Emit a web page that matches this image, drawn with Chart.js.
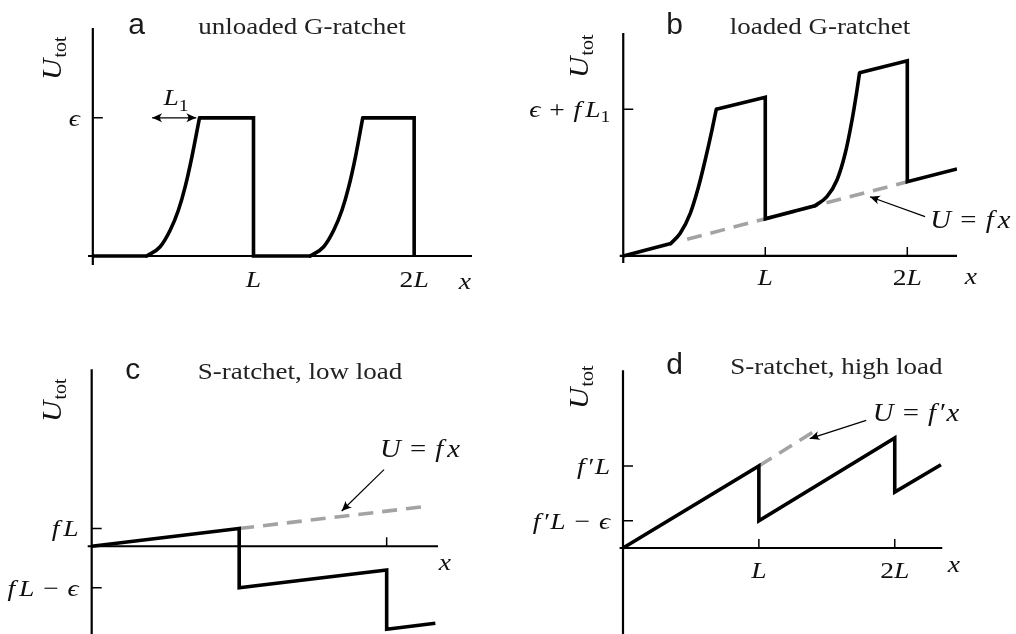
<!DOCTYPE html>
<html>
<head>
<meta charset="utf-8">
<script src="https://cdn.jsdelivr.net/npm/chart.js@4"></script>
<style>
  body { margin: 0; background: #fff; width: 1016px; height: 634px; position: relative; overflow: hidden; }
  .panel { position: absolute; width: 508px; height: 317px; }
</style>
</head>
<body>
<div class="panel" style="left:0;top:0"><canvas id="chartA" width="508" height="317"></canvas></div>
<div class="panel" style="left:508px;top:0"><canvas id="chartB" width="508" height="317"></canvas></div>
<div class="panel" style="left:0;top:317px"><canvas id="chartC" width="508" height="317"></canvas></div>
<div class="panel" style="left:508px;top:317px"><canvas id="chartD" width="508" height="317"></canvas></div>
<script>
// x in units of the period L
const xTickValues = [1, 2];
const xTickLabels = ["L", "2L"];

// a: unloaded G-ratchet (energy in units of eps)
const aSolid = [
  [[0, 0], [0.336, 0]],
  [[0.664, 1], [1, 1], [1, 0], [1.354, 0]],
  [[1.68, 1], [2, 1], [2, 0]]
];
const aRise = [
  [[0.336, 0], [0.419, 0.067], [0.482, 0.188], [0.533, 0.333], [0.575, 0.502], [0.617, 0.72], [0.664, 1]],
  [[1.354, 0], [1.437, 0.067], [1.5, 0.188], [1.551, 0.333], [1.593, 0.502], [1.635, 0.72], [1.68, 1]]
];
const aYTicks = [1];
const aYTickLabels = ["ϵ"];

// b: loaded G-ratchet (energy in units of eps + f L1)
const bSolid = [
  [[0, 0], [0.335, 0.085]],
  [[0.655, 1.0], [1, 1.082], [1, 0.253], [1.35, 0.342]],
  [[1.664, 1.249], [2, 1.331], [2, 0.506], [2.35, 0.593]]
];
const bRise = [
  [[0.335, 0.085], [0.401, 0.155], [0.472, 0.291], [0.53, 0.472], [0.577, 0.654], [0.625, 0.859], [0.655, 1.0]],
  [[1.35, 0.342], [1.434, 0.404], [1.505, 0.518], [1.563, 0.7], [1.611, 0.927], [1.646, 1.132], [1.664, 1.249]]
];
const bLoad = [[0.45, 0.114], [2, 0.506]];
const bYTicks = [1];
const bYTickLabels = ["ϵ + fL_1"];

// c: S-ratchet, low load (energy in units of eps)
const cSolid = [
  [[0, 0], [1, 0.3], [1, -0.7], [2, -0.4], [2, -1.4], [2.33, -1.3]]
];
const cLoad = [[1, 0.3], [2.245, 0.665]];
const cYTicks = [0.3, -0.7];
const cYTickLabels = ["fL", "fL − ϵ"];

// d: S-ratchet, high load (energy in units of f'L)
const dSolid = [
  [[0, 0], [1, 1], [1, 0.333], [2, 1.341], [2, 0.683], [2.34, 1.016]]
];
const dLoad = [[1, 1], [1.4, 1.415]];
const dYTicks = [1, 0.333];
const dYTickLabels = ["f′L", "f′L − ϵ"];

const SERIF = '"Liberation Serif", "DejaVu Serif", serif';
const GREY = "#a3a3a3";
const INK = "#111";

// split a TeX-ish label into runs: letters italic, digits/ops roman, _x subscript
function mathRuns(s) {
  const runs = [];
  for (let i = 0; i < s.length; i++) {
    const c = s[i];
    if (c === " ") continue;
    if (c === "_") { runs.push({ t: s[++i], sub: true }); continue; }
    if ("+=−".includes(c)) { runs.push({ t: c, op: true }); continue; }
    runs.push({ t: c, it: /[A-Za-zϵ]/.test(c) });
  }
  return runs;
}

function drawMath(ctx, s, x, midY, size, align) {
  const stretch = 1.15;
  const gap = size * 0.32;
  let w = 0;
  const items = mathRuns(s).map(r => {
    const font = r.sub ? `${Math.round(size * 0.72)}px ${SERIF}`
      : r.it ? `italic ${size}px ${SERIF}` : `${size}px ${SERIF}`;
    ctx.font = font;
    const tw = ctx.measureText(r.t).width;
    const pre = r.op ? gap : 0;
    const post = r.op ? gap : (r.t === "f" ? size * 0.14 : 0);
    const it = { t: r.t, font, x: w + pre, dy: r.sub ? size * 0.22 : 0 };
    w += pre + tw + post;
    return it;
  });
  const total = w * stretch;
  const x0 = align === "right" ? x - total : align === "center" ? x - total / 2 : x;
  ctx.save();
  ctx.translate(x0, midY + size * 0.33);
  ctx.scale(stretch, 1);
  ctx.fillStyle = INK;
  ctx.textAlign = "left";
  ctx.textBaseline = "alphabetic";
  items.forEach(it => { ctx.font = it.font; ctx.fillText(it.t, it.x, it.dy); });
  ctx.restore();
}

function drawUtot(ctx, x, y) {
  ctx.save();
  ctx.translate(x, y);
  ctx.rotate(-Math.PI / 2);
  ctx.scale(1.1, 1);
  ctx.fillStyle = INK;
  ctx.textBaseline = "alphabetic";
  ctx.font = `italic 27px ${SERIF}`;
  ctx.fillText("U", 0, 0);
  const wu = ctx.measureText("U").width;
  ctx.font = `18px ${SERIF}`;
  ctx.fillText("tot", wu + 1, 5);
  ctx.restore();
}

function drawTitle(ctx, letter, lx, title, tx, baseY) {
  ctx.save();
  ctx.fillStyle = "#1a1a1a";
  ctx.textAlign = "center";
  ctx.textBaseline = "alphabetic";
  ctx.font = '30px "Liberation Sans", Arial, sans-serif';
  ctx.fillText(letter, lx, baseY);
  ctx.translate(tx, baseY);
  ctx.scale(1.2, 1);
  ctx.fillStyle = "#222";
  ctx.font = `22.5px ${SERIF}`;
  ctx.fillText(title, 0, 0);
  ctx.restore();
}

function arrowHead(ctx, fx, fy, tx, ty) {
  const a = Math.atan2(ty - fy, tx - fx);
  ctx.save();
  ctx.translate(tx, ty);
  ctx.rotate(a);
  ctx.beginPath();
  ctx.moveTo(0, 0);
  ctx.lineTo(-10, -4.5);
  ctx.quadraticCurveTo(-6, 0, -10, 4.5);
  ctx.closePath();
  ctx.fill();
  ctx.restore();
}

function ratchetPlugin(p) {
  return {
    id: "ratchetAxes",
    beforeDatasetsDraw(chart) {
      const { ctx, scales: { x, y } } = chart;
      const x0 = x.getPixelForValue(0), y0 = y.getPixelForValue(0);
      ctx.save();
      ctx.strokeStyle = "#000";
      ctx.lineWidth = 2.2;
      ctx.beginPath();
      ctx.moveTo(x.getPixelForValue(x.min), y0);
      ctx.lineTo(x.getPixelForValue(x.max), y0);
      ctx.moveTo(x0, y.getPixelForValue(y.min));
      ctx.lineTo(x0, y.getPixelForValue(y.max));
      ctx.stroke();
      ctx.lineWidth = 1.5;
      ctx.beginPath();
      xTickValues.forEach(v => {
        const px = x.getPixelForValue(v);
        ctx.moveTo(px, y0);
        ctx.lineTo(px, y0 - 9);
      });
      p.yTicks.forEach(v => {
        const py = y.getPixelForValue(v);
        ctx.moveTo(x0, py);
        ctx.lineTo(x0 + 10, py);
      });
      ctx.stroke();
      ctx.restore();
    },
    afterDatasetsDraw(chart) {
      const { ctx, scales: { x, y } } = chart;
      const x0 = x.getPixelForValue(0), y0 = y.getPixelForValue(0);
      if (p.showXTicks) {
        xTickValues.forEach((v, i) => drawMath(ctx, xTickLabels[i], x.getPixelForValue(v), y0 + p.xLabelDy, 24, "center"));
      }
      p.yTicks.forEach((v, i) => drawMath(ctx, p.yLabels[i], x0 - 13, y.getPixelForValue(v), 24, "right"));
      drawMath(ctx, "x", p.xName[0], p.xName[1], 24, "center");
      drawUtot(ctx, p.utot[0], p.utot[1]);
      drawTitle(ctx, p.letter, p.letterX, p.title, p.titleX, p.titleY);

      ctx.save();
      ctx.strokeStyle = "#000";
      ctx.fillStyle = "#000";
      ctx.lineWidth = 1.2;
      p.arrows.forEach(a => {
        const fx = x.getPixelForValue(a.from[0]), fy = y.getPixelForValue(a.from[1]);
        const tx = x.getPixelForValue(a.to[0]), ty = y.getPixelForValue(a.to[1]);
        ctx.beginPath();
        ctx.moveTo(fx, fy);
        ctx.lineTo(tx, ty);
        ctx.stroke();
        arrowHead(ctx, fx, fy, tx, ty);
        if (a.both) arrowHead(ctx, tx, ty, fx, fy);
      });
      ctx.restore();
      p.notes.forEach(n => drawMath(ctx, n.text, x.getPixelForValue(n.at[0]), y.getPixelForValue(n.at[1]), n.size, "center"));
    }
  };
}

function lineSet(points, extra) {
  return Object.assign({
    data: points.map(([x, y]) => ({ x, y })),
    borderColor: "#000",
    borderWidth: 3.6,
    pointRadius: 0,
    fill: false,
    tension: 0,
    borderJoinStyle: "miter"
  }, extra);
}

function makeChart(id, p) {
  // Chart.js paints the first dataset on top, so the grey load line goes last
  const datasets = [];
  p.solid.forEach(s => datasets.push(lineSet(s, {})));
  (p.rise || []).forEach(s => datasets.push(lineSet(s, { cubicInterpolationMode: "monotone", borderCapStyle: "round" })));
  if (p.load) datasets.push(lineSet(p.load, { borderColor: GREY, borderDash: [15, 9] }));
  return new Chart(document.getElementById(id), {
    type: "line",
    data: { datasets },
    options: {
      responsive: false,
      animation: false,
      events: [],
      layout: { padding: p.pad },
      plugins: { legend: { display: false }, tooltip: { enabled: false } },
      scales: {
        x: { type: "linear", min: p.xRange[0], max: p.xRange[1], display: false },
        y: { type: "linear", min: p.yRange[0], max: p.yRange[1], display: false }
      }
    },
    plugins: [ratchetPlugin(p)]
  });
}

makeChart("chartA", {
  solid: aSolid, rise: aRise, load: null,
  yTicks: aYTicks, yLabels: aYTickLabels, showXTicks: true, xLabelDy: 23,
  xRange: [-0.03, 2.36], yRange: [-0.065, 1.65],
  pad: { left: 88, right: 36, top: 28, bottom: 52 },
  xName: [465, 281], utot: [61, 80],
  letter: "a", letterX: 136.7, title: "unloaded G-ratchet", titleX: 302, titleY: 34,
  arrows: [{ from: [0.644, 1], to: [0.369, 1], both: true }],
  notes: [{ text: "L_1", at: [0.518, 1.148], size: 24 }]
});

makeChart("chartB", {
  solid: bSolid, rise: bRise, load: bLoad,
  yTicks: bYTicks, yLabels: bYTickLabels, showXTicks: true, xLabelDy: 21,
  xRange: [-0.025, 2.35], yRange: [-0.048, 1.52],
  pad: { left: 111.7, right: 59, top: 33, bottom: 54 },
  xName: [463, 276], utot: [80, 78],
  letter: "b", letterX: 166.7, title: "loaded G-ratchet", titleX: 312, titleY: 34,
  arrows: [{ from: [2.125, 0.268], to: [1.737, 0.404] }],
  notes: [{ text: "U = fx", at: [2.444, 0.245], size: 25 }]
});

makeChart("chartC", {
  solid: cSolid, rise: null, load: cLoad,
  yTicks: cYTicks, yLabels: cYTickLabels, showXTicks: false, xLabelDy: 22,
  xRange: [-0.027, 2.348], yRange: [-1.48, 2.985],
  pad: { left: 87.7, right: 70, top: 52.3, bottom: 0 },
  xName: [445, 245], utot: [61, 105],
  letter: "c", letterX: 132.8, title: "S-ratchet, low load", titleX: 300, titleY: 62.3,
  arrows: [{ from: [1.982, 1.292], to: [1.695, 0.595] }],
  notes: [{ text: "U = fx", at: [2.226, 1.646], size: 25 }]
});

makeChart("chartD", {
  solid: dSolid, rise: null, load: dLoad,
  yTicks: dYTicks, yLabels: dYTickLabels, showXTicks: true, xLabelDy: 22,
  xRange: [-0.025, 2.35], yRange: [-1.049, 2.167],
  pad: { left: 111.6, right: 73.7, top: 53.3, bottom: 0 },
  xName: [446, 246.7], utot: [80, 92],
  letter: "d", letterX: 166.7, title: "S-ratchet, high load", titleX: 328.3, titleY: 57.3,
  arrows: [{ from: [1.79, 1.557], to: [1.374, 1.333] }],
  notes: [{ text: "U = f′x", at: [2.156, 1.65], size: 25 }]
});
</script>
</body>
</html>
